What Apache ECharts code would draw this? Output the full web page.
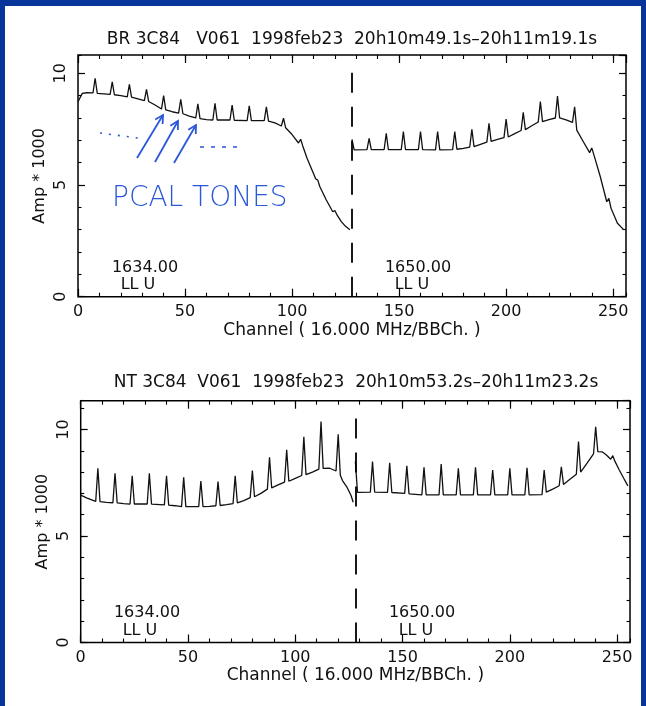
<!DOCTYPE html>
<html><head><meta charset="utf-8">
<script src="https://cdn.jsdelivr.net/npm/echarts@6/dist/echarts.min.js"></script>
<style>
html,body{margin:0;padding:0;background:#08359a;width:646px;height:706px;overflow:hidden;}
#paper{position:absolute;left:5px;top:6px;width:636px;height:700px;background:#fff;}
#chart{position:absolute;left:0;top:0;width:646px;height:706px;}
</style></head><body><div id="paper"></div><div id="chart"></div>
<script>
// ---------- text ----------
const brTitle = 'BR 3C84   V061  1998feb23  20h10m49.1s\u201320h11m19.1s';
const ntTitle = 'NT 3C84  V061  1998feb23  20h10m53.2s\u201320h11m23.2s';
const xAxisTitle = 'Channel ( 16.000 MHz/BBCh. )';
const yAxisTitle = 'Amp * 1000';
const lsbFreq = '1634.00';
const usbFreq = '1650.00';
const polLabel = 'LL U';
const noteText = 'PCAL TONES';
const channelTicks = [0, 50, 100, 150, 200, 250];
const ampTicks = [0, 5, 10];

// ---------- data: BR (upper panel) ----------
const brLsbCh  = [0,2,4,7,8,9,12,15,16,17,20,23,24,25,28,31,32,33,36,39,40,41,44,47,48,49,52,55,56,57,60,63,64,65,71,72,73,79,80,81,87,88,89,92,95,96,97,100,103,104,105,107,110,111,112,113,116,119,120,121,123,125,127];
const brLsbAmp = [8.73,9.10,9.13,9.12,9.78,9.10,9.08,9.06,9.62,9.04,9.00,8.95,9.51,8.93,8.86,8.78,9.28,8.74,8.58,8.40,9.00,8.36,8.28,8.22,8.84,8.19,8.08,8.00,8.63,7.97,7.93,7.91,8.66,7.91,7.91,8.58,7.90,7.88,8.54,7.88,7.88,8.50,7.86,7.78,7.64,7.99,7.56,7.26,6.88,7.05,6.75,6.20,5.52,5.28,5.22,4.92,4.33,3.80,3.86,3.66,3.36,3.15,3.00];
const brUsbCh  = [128,129,135,136,137,143,144,145,151,152,153,159,160,161,167,168,169,175,176,177,180,183,184,185,188,191,192,193,196,199,200,201,204,207,208,209,212,215,216,217,220,223,224,225,228,231,232,233,236,239,240,241,244,247,248,249,252,255];
const brUsbAmp = [7.04,6.57,6.58,7.09,6.58,6.58,7.31,6.58,6.58,7.39,6.58,6.58,7.39,6.58,6.57,7.39,6.57,6.58,7.39,6.60,6.64,6.70,7.49,6.72,6.82,6.92,7.76,6.95,7.04,7.12,7.95,7.15,7.30,7.44,8.25,7.48,7.65,7.82,8.73,7.84,7.93,8.00,8.98,8.00,7.92,7.80,8.50,7.46,6.95,6.45,6.66,6.35,5.37,4.25,4.40,3.96,3.29,2.99];

// ---------- data: NT (lower panel) ----------
const ntLsbCh  = [0,3,7,8,9,12,15,16,17,20,23,24,25,31,32,33,39,40,41,44,47,48,49,55,56,57,60,63,64,65,68,71,72,73,76,79,80,81,84,87,88,89,92,95,96,97,100,103,104,105,108,111,112,113,116,119,120,121,122,124,126,127];
const ntLsbAmp = [6.92,6.78,6.62,8.18,6.61,6.58,6.56,7.94,6.55,6.52,6.50,7.83,6.50,6.50,7.94,6.50,6.46,7.83,6.45,6.42,6.38,7.76,6.38,6.38,7.58,6.38,6.39,6.42,7.55,6.43,6.47,6.52,7.82,6.55,6.66,6.80,8.07,6.84,7.00,7.20,8.69,7.26,7.40,7.53,9.04,7.57,7.70,7.84,9.66,7.88,8.00,8.14,10.37,8.17,8.18,8.05,9.77,7.85,7.60,7.31,6.90,6.58];
const ntUsbCh  = [128,129,135,136,137,143,144,145,151,152,153,159,160,161,167,168,169,175,176,177,183,184,185,191,192,193,199,200,201,207,208,209,215,216,217,220,223,224,225,228,231,232,233,236,239,240,241,243,245,247,248,249,251,253,255];
const ntUsbAmp = [8.50,7.05,7.06,8.49,7.06,7.05,8.44,7.04,7.00,8.29,6.98,6.93,8.22,6.93,6.93,8.38,6.93,6.93,8.18,6.93,6.93,8.22,6.93,6.93,8.10,6.93,6.93,8.18,6.93,6.93,8.20,6.93,6.94,8.10,7.06,7.20,7.36,8.25,7.42,7.66,7.90,9.43,8.00,8.42,8.85,10.13,8.96,8.95,8.80,8.60,8.77,8.50,8.10,7.72,7.35];

const bandEdge = 128;

// ---------- styling ----------
const FONT = 'DejaVu Sans';
const INK = '#111';
const BLUE = '#2a58d8';

function pairs(ch, amp) { return ch.map((c, i) => [c, amp[i]]); }

const panels = [
  { left: 78, top: 55, width: 548, height: 241.7, ymax: 10.82, dashTop: 10.1 },
  { left: 80.7, top: 400.7, width: 549.3, height: 241.8, ymax: 11.35, dashTop: 10.7 }
];

const xAxes = [], yAxes = [], grids = [];
panels.forEach((p, g) => {
  grids.push({ left: p.left, top: p.top, width: p.width, height: p.height, show: true,
    borderColor: '#000', borderWidth: 1.5, containLabel: false, outerBoundsMode: 'none' });
  const baseX = { type: 'value', gridIndex: g, min: 0, max: 256, splitLine: { show: false },
    axisLine: { show: false, onZero: false } };
  const baseY = { type: 'value', gridIndex: g, min: 0, max: p.ymax, splitLine: { show: false },
    axisLine: { show: false, onZero: false } };
  xAxes.push(Object.assign({}, baseX, { position: 'bottom', interval: 50,
    axisTick: { inside: true, length: 8, lineStyle: { color: '#000', width: 1.2 } },
    axisLabel: { show: true, margin: 7, color: INK, fontFamily: FONT, fontSize: 16,
      showMaxLabel: false, formatter: v => channelTicks.includes(v) ? String(v) : '' },
    name: xAxisTitle, nameLocation: 'middle', nameGap: 25, nameMoveOverlap: false,
    nameTextStyle: { color: INK, fontFamily: FONT, fontSize: 17 } }));
  xAxes.push(Object.assign({}, baseX, { position: 'bottom', interval: 10,
    axisTick: { inside: true, length: 4, lineStyle: { color: '#000', width: 1.1 } }, axisLabel: { show: false } }));
  xAxes.push(Object.assign({}, baseX, { position: 'top', interval: 50,
    axisTick: { inside: true, length: 8, lineStyle: { color: '#000', width: 1.2 } }, axisLabel: { show: false } }));
  xAxes.push(Object.assign({}, baseX, { position: 'top', interval: 10,
    axisTick: { inside: true, length: 4, lineStyle: { color: '#000', width: 1.1 } }, axisLabel: { show: false } }));
  yAxes.push(Object.assign({}, baseY, { position: 'left', interval: 5,
    axisTick: { inside: true, length: 7, lineStyle: { color: '#000', width: 1.2 } },
    axisLabel: { show: true, rotate: 90, margin: 9, color: INK, fontFamily: FONT, fontSize: 16,
      showMaxLabel: false, formatter: v => ampTicks.includes(v) ? String(v) : '' },
    name: yAxisTitle, nameLocation: 'middle', nameGap: 30, nameMoveOverlap: false,
    nameTextStyle: { color: INK, fontFamily: FONT, fontSize: 16 } }));
  yAxes.push(Object.assign({}, baseY, { position: 'left', interval: 1,
    axisTick: { inside: true, length: 3.5, lineStyle: { color: '#000', width: 1.1 } }, axisLabel: { show: false } }));
  yAxes.push(Object.assign({}, baseY, { position: 'right', interval: 5,
    axisTick: { inside: true, length: 7, lineStyle: { color: '#000', width: 1.2 } }, axisLabel: { show: false } }));
  yAxes.push(Object.assign({}, baseY, { position: 'right', interval: 1,
    axisTick: { inside: true, length: 3.5, lineStyle: { color: '#000', width: 1.1 } }, axisLabel: { show: false } }));
});

function lineSeries(g, data, withEdge) {
  const s = { type: 'line', xAxisIndex: g * 4, yAxisIndex: g * 4, data: data, symbol: 'none',
    lineStyle: { color: INK, width: 1.3 }, animation: false, silent: true, z: 3 };
  if (withEdge) {
    s.markLine = { silent: true, symbol: ['none', 'none'], animation: false, label: { show: false },
      lineStyle: { color: '#000', width: 1.8, type: [20, 14] },
      data: [[{ coord: [bandEdge, 0] }, { coord: [bandEdge, panels[g].dashTop] }]] };
  }
  return s;
}

const series = [
  lineSeries(0, pairs(brLsbCh, brLsbAmp), true),
  lineSeries(0, pairs(brUsbCh, brUsbAmp), false),
  lineSeries(1, pairs(ntLsbCh, ntLsbAmp), true),
  lineSeries(1, pairs(ntUsbCh, ntUsbAmp), false)
];

function txt(text, x, y, size, align) {
  return { type: 'text', x: x, y: y, z: 10, silent: true,
    style: { text: text, fill: INK, font: size + 'px "' + FONT + '"', align: align || 'center', verticalAlign: 'middle' } };
}

function arrow(x1, y1, x2, y2) {
  const dx = x1 - x2, dy = y1 - y2, L = Math.hypot(dx, dy);
  const ux = dx / L, uy = dy / L, a = 0.5, h = 9;
  const r = (ang) => [x2 + h * (ux * Math.cos(ang) - uy * Math.sin(ang)), y2 + h * (ux * Math.sin(ang) + uy * Math.cos(ang))];
  return [
    { type: 'line', z: 10, silent: true, shape: { x1: x1, y1: y1, x2: x2, y2: y2 }, style: { stroke: BLUE, lineWidth: 1.8 } },
    { type: 'polyline', z: 10, silent: true, shape: { points: [r(a), [x2, y2], r(-a)] }, style: { stroke: BLUE, lineWidth: 1.8, fill: null } }
  ];
}

const graphics = [
  txt(brTitle, 352, 40, 17),
  txt(ntTitle, 356, 383, 17),
  txt(lsbFreq, 145, 268, 16), txt(polLabel, 138, 285, 16),
  txt(usbFreq, 418, 268, 16), txt(polLabel, 412, 285, 16),
  txt(lsbFreq, 147, 613, 16), txt(polLabel, 140, 631, 16),
  txt(usbFreq, 422, 613, 16), txt(polLabel, 416, 631, 16),
  { type: 'text', x: 112, y: 199, z: 10, silent: true,
    style: { text: noteText, fill: BLUE, font: '300 28px "DejaVu Sans"', align: 'left', verticalAlign: 'middle' } },
  { type: 'line', z: 10, silent: true, shape: { x1: 100, y1: 133, x2: 138, y2: 138 }, style: { stroke: BLUE, lineWidth: 1.6, lineDash: [2, 7] } },
  { type: 'line', z: 10, silent: true, shape: { x1: 200, y1: 147, x2: 242, y2: 147 }, style: { stroke: BLUE, lineWidth: 1.6, lineDash: [4, 7] } }
].concat(arrow(137, 158, 163, 115), arrow(155, 162, 178, 121), arrow(174, 163, 196, 125));

const chart = echarts.init(document.getElementById('chart'), null, { renderer: 'canvas' });
chart.setOption({
  backgroundColor: 'transparent',
  animation: false,
  grid: grids,
  xAxis: xAxes,
  yAxis: yAxes,
  series: series,
  graphic: graphics
});
</script></body></html>
